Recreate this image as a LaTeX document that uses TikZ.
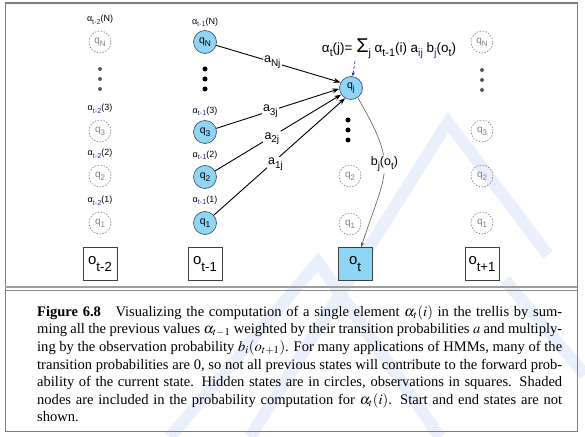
\documentclass[tikz,border=0pt]{standalone}
\usepackage{mathptmx}
\usepackage{fontspec}
\setmainfont{Liberation Serif}
\setsansfont{Liberation Sans}
\usepackage{graphicx}
\usepackage{xcolor}
\usetikzlibrary{positioning}
\usetikzlibrary{arrows.meta}

\definecolor{stateblue}{RGB}{143,213,246}
\definecolor{rimgray}{RGB}{72,90,108}
\definecolor{subnavy}{RGB}{35,45,140}
\definecolor{markblue}{RGB}{234,239,252}
\definecolor{framegray}{RGB}{125,125,125}

% lowered subscripts for the sans labels
\newcommand{\dn}[2][0.8]{\raisebox{-0.55ex}{\scalebox{#1}{#2}}}
\newcommand{\osub}[1]{\raisebox{-0.8ex}{\scalebox{0.88}{#1}}}

\tikzset{
  hidden/.style={circle, draw=rimgray, fill=stateblue, line width=0.7bp,
    minimum size=23bp, inner sep=0pt, font=\sffamily\fontsize{10.5}{10.5}\selectfont},
  ghost/.style={circle, draw=gray, dash pattern=on 1.6bp off 1.4bp, line width=0.6bp,
    minimum size=22bp, inner sep=0pt, text=gray, font=\sffamily\fontsize{10}{10}\selectfont},
  obsbox/.style={draw=black!75, line width=0.7bp, minimum width=34bp, minimum height=33bp,
    inner sep=0pt, font=\sffamily\fontsize{15}{15}\selectfont},
  alphalbl/.style={inner sep=0pt, font=\sffamily\fontsize{9}{9}\selectfont},
  trans/.style={-{Stealth[length=7bp,width=5bp]}, line width=0.9bp},
  wlbl/.style={fill=white, text=black, inner sep=1.5bp, font=\sffamily\fontsize{12.5}{12.5}\selectfont},
  bigdot/.style={circle, fill=black, inner sep=0pt, minimum size=5bp},
  smalldot/.style={circle, fill=black!65, inner sep=0pt, minimum size=4bp},
  wmark/.style={markblue, line width=12bp},
}

\begin{document}
\begin{tikzpicture}[x=1bp, y=-1bp]
\useasboundingbox (0,0) rectangle (585,437);

%%%%%%%%%% watermark %%%%%%%%
{
\draw[wmark] (250,437)--(448,122)--(548,255);
\draw[wmark] (170,437)--(318,262)--(440,437);
\draw[wmark] (505,280)--(585,375);
}

%%%%%%%%%% frame %%%%%%%%
{
\draw[framegray, line width=1bp] (5,3) rectangle (577,431);
\draw[framegray, line width=1.2bp] (5,3)--(577,3);
\draw[gray!75, line width=2bp] (5,287)--(577,287);
\draw[gray!90, line width=0.7bp] (5,290.5)--(577,290.5);
}

%%%%%%%%%% column t-2 %%%%%%%%
{
\node[ghost] (AN) at (100,42) {q\dn{N}};
\node[ghost] (A3) at (100,131) {q\dn{3}};
\node[ghost] (A2) at (100,176) {q\dn{2}};
\node[ghost] (A1) at (100,223) {q\dn{1}};
\foreach \y in {69,79,89} \node[smalldot] (dA\y) at (100,\y) {};

\node[alphalbl, above=6bp of AN] (lAN) {α\dn{\color{subnavy}t-2}(N)};
\node[alphalbl, above=6bp of A3] (lA3) {α\dn{\color{subnavy}t-2}(3)};
\node[alphalbl, above=6bp of A2] (lA2) {α\dn{\color{subnavy}t-2}(2)};
\node[alphalbl, above=6bp of A1] (lA1) {α\dn{\color{subnavy}t-2}(1)};

\node[obsbox] (oA) at (100,264) {o\osub{t-2}};
}

%%%%%%%%%% column t-1 %%%%%%%%
{
\node[hidden] (BN) at (205,42) {q\dn{N}};
\node[hidden] (B3) at (205,132) {q\dn{3}};
\node[hidden] (B2) at (205,177) {q\dn{2}};
\node[hidden] (B1) at (205,223) {q\dn{1}};
\foreach \y in {69,79,89} \node[bigdot] (dB\y) at (205,\y) {};

\node[alphalbl, above=3bp of BN] (lBN) {α\dn{\color{subnavy}t-1}(N)};
\node[alphalbl, above=4bp of B3] (lB3) {α\dn{\color{subnavy}t-1}(3)};
\node[alphalbl, above=5bp of B2] (lB2) {α\dn{\color{subnavy}t-1}(2)};
\node[alphalbl, above=6bp of B1] (lB1) {α\dn{\color{subnavy}t-1}(1)};

\node[obsbox] (oB) at (205,264) {o\osub{t-1}};
}

%%%%%%%%%% column t %%%%%%%%
{
\node[hidden] (qj) at (351,88) {q\dn{j}};
\foreach \y in {120,130,140} \node[bigdot] (dC\y) at (348,\y) {};
\node[ghost] (C2) at (350,176) {q\dn{2}};
\node[ghost] (C1) at (350,224) {q\dn{1}};

\node[obsbox, fill=stateblue] (oC) at (355,264) {o\osub{t}};
}

%%%%%%%%%% column t+1 %%%%%%%%
{
\node[ghost] (DN) at (482,42) {q\dn{N}};
\node[ghost] (D3) at (482,131) {q\dn{3}};
\node[ghost] (D2) at (482,176) {q\dn{2}};
\node[ghost] (D1) at (482,223) {q\dn{1}};
\foreach \y in {70,80,90} \node[smalldot] (dD\y) at (482,\y) {};

\node[obsbox] (oD) at (482,264) {o\osub{t+1}};
}

%%%%%%%%%% transitions into q_j %%%%%%%%
{
\draw[trans] (BN) -- (qj.152) node[wlbl, pos=0.45] (aN) {a\dn{Nj}};
\draw[trans] (B3) -- (qj.184) node[wlbl, pos=0.44] (a3) {a\dn{3j}};
\draw[trans] (B2) -- (qj.214) node[wlbl, pos=0.45, yshift=-2bp] (a2) {a\dn{2j}};
\draw[trans] (B1) -- (qj.240) node[wlbl, pos=0.47, yshift=-4bp] (a1) {a\dn{1j}};

\draw[gray!70!black, line width=0.6bp, -{Stealth[length=5bp,width=3.5bp]}]
  (qj.-55) to[out=-60, in=72, looseness=1.4] node[wlbl, pos=0.45] (bj) {b\dn{j}(o\dn{t})} (oC.70);
}

%%%%%%%%%% the forward formula %%%%%%%%
{
\node[inner sep=0pt, font=\sffamily\fontsize{13.5}{13.5}\selectfont] (fw) at (389,49)
  {α\dn{t}(j)= \raisebox{-0.05ex}{\fontsize{20}{20}\selectfont Σ}\dn{j} α\dn{t-1}(i) a\dn{\color{subnavy}ij} b\dn{\color{subnavy}j}(o\dn{t})};
\coordinate (fwfoot) at (355,61);
\draw[subnavy!70!blue, densely dashed, line width=0.6bp, -{Stealth[length=4bp,width=3bp]}] (fwfoot) -- (qj);
}

% caption
{
\node[anchor=north west, inner sep=0pt, text width=525bp, align=justify,
  font=\rmfamily\fontsize{14.6}{17.7}\selectfont] (cap) at (37,305)
  {\hyphenpenalty=10000 \textbf{Figure 6.8}\quad Visualizing the computation of a single element $\alpha_t(i)$ in the trellis by sum-\linebreak
  ming all the previous values $\alpha_{t-1}$ weighted by their transition probabilities $a$ and multiply-\linebreak
  ing by the observation probability $b_i(o_{t+1})$. For many applications of HMMs, many of the\linebreak
  transition probabilities are 0, so not all previous states will contribute to the forward prob-\linebreak
  ability of the current state. Hidden states are in circles, observations in squares. Shaded\linebreak
  nodes are included in the probability computation for $\alpha_t(i)$. Start and end states are not\linebreak
  shown.};
}

\end{tikzpicture}
\end{document}
